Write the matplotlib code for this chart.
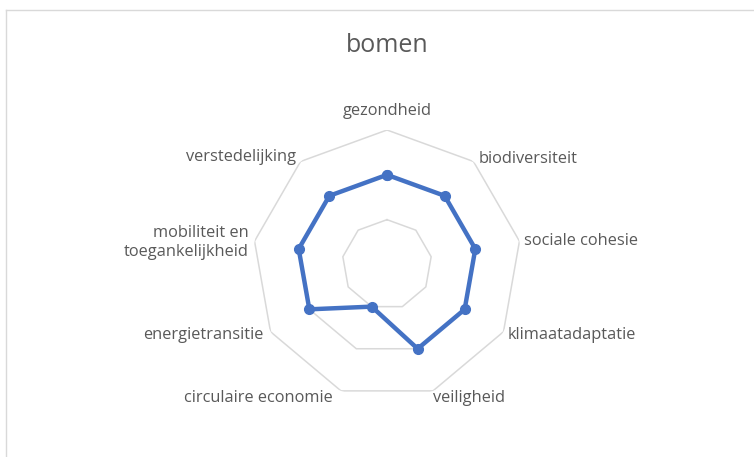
import numpy as np
import matplotlib
matplotlib.use("Agg")
import matplotlib.pyplot as plt
from matplotlib.lines import Line2D

# data
categories = ["gezondheid", "biodiversiteit", "sociale cohesie", "klimaatadaptatie",
              "veiligheid", "circulaire economie", "energietransitie",
              "mobiliteit en\ntoegankelijkheid", "verstedelijking"]
values = [2, 2, 2, 2, 2, 1, 2, 2, 2]
ring_levels = [1, 2, 3]
title = "bomen"

plt.rcParams['font.family'] = ['Open Sans', 'DejaVu Sans']
text_color = '#595959'
grid_color = '#d9d9d9'
line_color = '#4472c4'

W, H = 754, 457
fig = plt.figure(figsize=(W / 100, H / 100), dpi=100)

# chart border (only top and left visible in the reference)
fig.add_artist(Line2D([6 / W, 6 / W], [0, 1 - 10 / H], transform=fig.transFigure,
                      color=grid_color, lw=1))
fig.add_artist(Line2D([6 / W, 1], [1 - 10 / H, 1 - 10 / H], transform=fig.transFigure,
                      color=grid_color, lw=1))

cx, cy, R = 387, 264.5, 134.5
ax = fig.add_axes([(cx - R) / W, (H - cy - R) / H, 2 * R / W, 2 * R / H], projection='polar')
ax.set_theta_offset(np.pi / 2)
ax.set_theta_direction(-1)
ax.set_ylim(0, 3)
ax.grid(False)
ax.spines['polar'].set_visible(False)
ax.set_xticks([])
ax.set_yticks([])
ax.patch.set_alpha(0)

n = len(categories)
angles = np.arange(n) * 2 * np.pi / n
closed = np.append(angles, angles[0])

# polygon gridlines
for lev in ring_levels:
    ax.plot(closed, [lev] * (n + 1), color=grid_color, lw=1.1, zorder=1)

vals = np.append(values, values[0])
ax.plot(closed, vals, color=line_color, lw=3.2, zorder=3,
        marker='o', markersize=7, solid_joinstyle='round')

# category labels: (offset in points, ha, va)
label_style = [
    ((0, 8), 'center', 'bottom'),
    ((4, 2), 'left', 'center'),
    ((3, 0), 'left', 'center'),
    ((3, -2), 'left', 'center'),
    ((0, -5), 'left', 'center'),
    ((-6, -5), 'right', 'center'),
    ((-5, -2), 'right', 'center'),
    ((-4, -1), 'right', 'center'),
    ((-3, 3), 'right', 'center'),
]
for ang, lab, (off, ha, va) in zip(angles, categories, label_style):
    ax.annotate(lab, xy=(ang, ring_levels[-1]), xytext=off, textcoords='offset points',
                ha=ha, va=va, multialignment='right', fontsize=11.8, color=text_color,
                linespacing=1.3, annotation_clip=False)

fig.text(387 / W, 1 - 45 / H, title, ha='center', va='center', fontsize=18, color=text_color)

fig.savefig("out.png", dpi=100, facecolor='white')
